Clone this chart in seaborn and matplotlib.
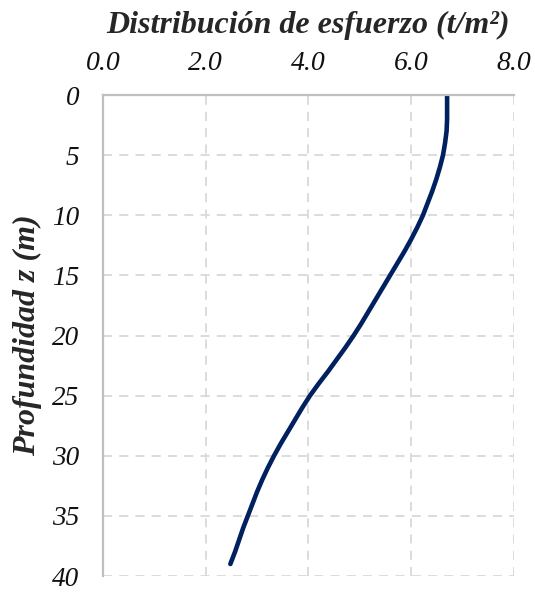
import pandas as pd
import matplotlib
matplotlib.use("Agg")
import matplotlib.pyplot as plt
import seaborn as sns

# Values (depth in m, stress in t/m2)
profundidad = [0, 1, 2, 3, 4, 5, 6, 7, 8, 9, 10, 11, 12, 13, 14, 15, 16, 17, 18, 19,
               20, 21, 22, 23, 24, 25, 26, 27, 28, 29, 30, 31, 32, 33, 34, 35, 36, 37, 38, 39]
esfuerzo = [6.70, 6.70, 6.70, 6.69, 6.66, 6.62, 6.56, 6.49, 6.41, 6.32,
            6.23, 6.12, 6.00, 5.87, 5.73, 5.59, 5.45, 5.31, 5.17, 5.03,
            4.88, 4.72, 4.55, 4.38, 4.20, 4.03, 3.88, 3.74, 3.60, 3.46,
            3.33, 3.21, 3.10, 3.00, 2.91, 2.82, 2.73, 2.65, 2.57, 2.48]
x_ticks = [0.0, 2.0, 4.0, 6.0, 8.0]
y_ticks = [0, 5, 10, 15, 20, 25, 30, 35, 40]

data = pd.DataFrame({"z": profundidad, "sigma": esfuerzo})

sns.set_style("white")
plt.rcParams["font.family"] = ["Liberation Serif", "DejaVu Serif"]
plt.rcParams["font.style"] = "italic"

fig = plt.figure(figsize=(5.35, 5.92), dpi=100)
ax = fig.add_axes([0.1925, 0.027, 0.768, 0.8125])

sns.lineplot(data=data, x="sigma", y="z", sort=False, estimator=None,
             color="#002060", linewidth=3.3, ax=ax,
             solid_capstyle="round", solid_joinstyle="round")

ax.set_xlim(0, 8)
ax.set_ylim(40, 0)
ax.set_xticks(x_ticks)
ax.set_yticks(y_ticks)
ax.set_xticklabels([f"{t:.1f}" for t in x_ticks], fontstyle="italic", fontsize=20)
ax.set_yticklabels([str(t) for t in y_ticks], fontstyle="italic", fontsize=19.5)
ax.xaxis.tick_top()
ax.xaxis.set_label_position("top")
ax.tick_params(axis="x", length=0, pad=14, colors="#111111")
ax.tick_params(axis="y", length=0, pad=17, colors="#111111")

ax.grid(True, color="#d9d9d9", linestyle=(0, (5, 4)), linewidth=1.3)
for side in ["right", "bottom"]:
    ax.spines[side].set_visible(False)
for side in ["left", "top"]:
    ax.spines[side].set_color("#bfbfbf")
    ax.spines[side].set_linewidth(1.6)

ax.set_xlabel("Distribución de esfuerzo (t/m²)", fontsize=23, fontweight="bold",
              fontstyle="italic", labelpad=13)
ax.set_ylabel("Profundidad z (m)", fontsize=23, fontweight="bold",
              fontstyle="italic", labelpad=7)

fig.savefig("out.png", dpi=100)
